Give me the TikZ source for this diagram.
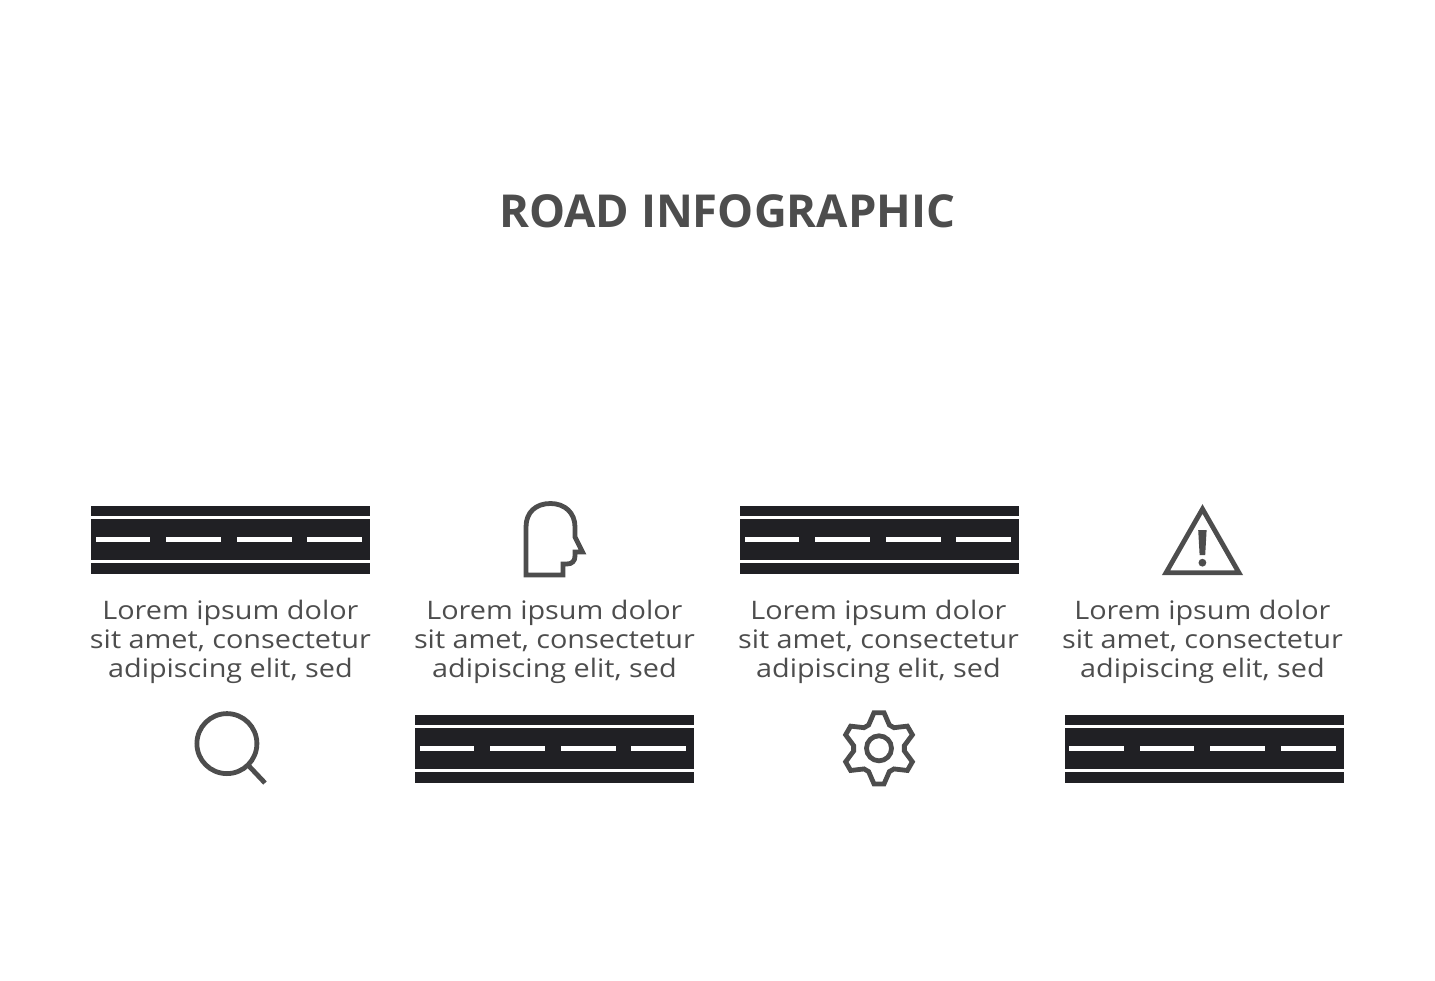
\documentclass[tikz,border=0pt]{standalone}
\usepackage{fontspec}
\setmainfont{Open Sans}
\newfontfamily\blurbfont[FakeStretch=1.13]{Open Sans}
\definecolor{roadblack}{HTML}{202024}
\definecolor{inkgray}{HTML}{4D4D4D}
\tikzset{
  roadband/.style={fill=roadblack},
  roaddash/.style={fill=white},
  icon/.style={draw=inkgray, line width=4.8pt, miter limit=10},
  blurb/.style={text=inkgray, align=center, font=\blurbfont\fontsize{25.5}{29}\selectfont},
}
\begin{document}
\begin{tikzpicture}[x=1pt, y=-1pt]
  \useasboundingbox (0,0) rectangle (1435,980);
  \node[text=inkgray, font=\fontsize{45.4}{50}\bfseries\selectfont] (title) at (727.3,211.5) {ROAD INFOGRAPHIC};
  % roads
  \foreach \xroad/\yroad in {91/505, 415/714, 740/505, 1064.5/714} {
    \begin{scope}[shift={(\xroad,\yroad)}]
      \fill[roadband] (0,0.5) rectangle (279,10.5);
      \fill[roadband] (0,14) rectangle (279,54.5);
      \fill[roadband] (0,58) rectangle (279,68.5);
      \foreach \xdash in {4.5, 75, 145.7, 216.2}
        \fill[roaddash] (\xdash,32.4) rectangle ++(54.8,4.6);
    \end{scope}
  }
  % text
  \foreach \n/\xtext in {a/230.4, b/554.4, c/878.4, d/1202.4}
    \node[blurb] (text\n) at (\xtext,641.5) {Lorem ipsum dolor\\sit amet, consectetur\\adipiscing elit, sed};
  % head
  \draw[icon] (526,575) -- (526,527) .. controls (526,512) and (536,503.5) .. (550.5,503.5)
    .. controls (565,503.5) and (575,513) .. (575,527) -- (575,537) -- (582.5,552) -- (575,552) -- (575,556)
    .. controls (575,561) and (572,564) .. (567,564) -- (563,564) -- (563,575) -- cycle;
  % warning sign
  \draw[icon] (1202.5,509) -- (1239,572.8) -- (1166,572.8) -- cycle;
  \fill[inkgray] (1198.2,530) -- (1206.6,530) -- (1205.2,555) -- (1199.6,555) -- cycle;
  \fill[inkgray] (1202.4,562.7) circle (3.9);
  % magnifier
  \draw[icon] (226.9,743.6) circle (30);
  \draw[icon] (248,765) -- (265,783);
  % gear
  \draw[icon] (879,748.3) circle (12.5);
  \draw[icon, shift={(879,748.3)}] (22:36)
    \foreach \a in {30,90,150,210,270,330} { -- (\a-8:36) -- (\a+8:36) -- (\a+24:25.5) -- (\a+36:25.5) } -- cycle;
\end{tikzpicture}
\end{document}
